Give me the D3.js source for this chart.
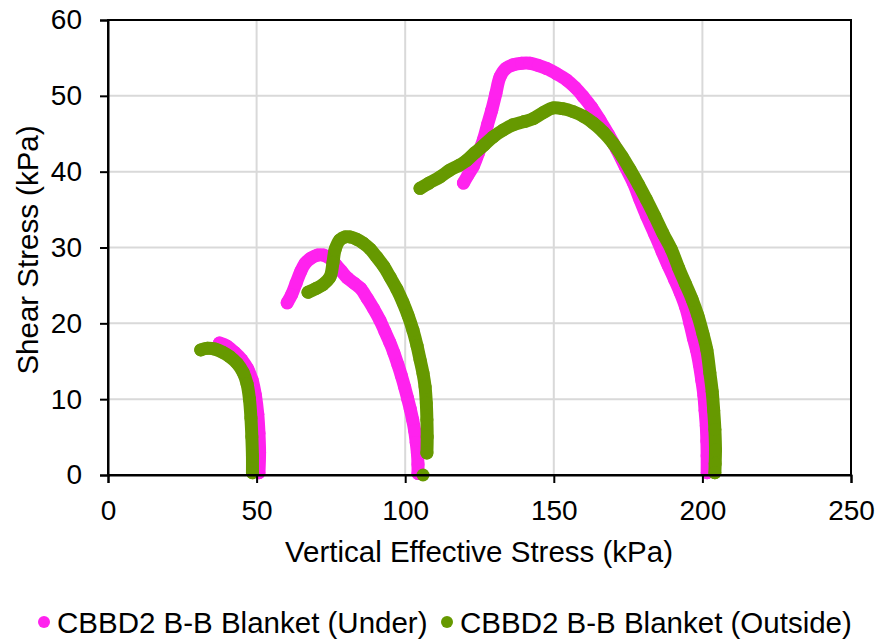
<!DOCTYPE html>
<html>
<head>
<meta charset="utf-8">
<script src="https://cdn.jsdelivr.net/npm/d3@7/dist/d3.min.js"></script>
<style>
  body { margin: 0; background: #fff; }
  text { font-family: "Liberation Sans", Arial, sans-serif; fill: #000; }
</style>
</head>
<body>
<svg id="chart" width="883" height="642"></svg>
<script>
// Axis ticks
const xTicks = [0, 50, 100, 150, 200, 250];
const yTicks = [0, 10, 20, 30, 40, 50, 60];

// Series labels and colours
const seriesNames = ["CBBD2 B-B Blanket (Under)", "CBBD2 B-B Blanket (Outside)"];
const seriesColors = ["#ff22ee", "#669900"];

// Stress paths, [vertical effective stress (kPa), shear stress (kPa)]
// Under the blanket
const underStage1 = [
  [37.5, 17.4], [40, 17.0], [42.5, 16.2], [45, 15.2], [47, 14.0], [48.5, 12.5],
  [49.6, 10.5], [50.4, 8.0], [50.8, 5.5], [51, 3.0], [50.8, 0.3]
];
const underStage2 = [
  [60.3, 22.7], [61.8, 23.8], [63.3, 25.3], [64.8, 26.8], [66.3, 27.9], [68.3, 28.6],
  [70.5, 29.0], [72.5, 29.0], [74.5, 28.6], [76.5, 27.8], [78.5, 26.9], [80.5, 26.0],
  [82.8, 25.3], [85, 24.6], [87.2, 23.3], [89.4, 21.9], [91.5, 20.4], [93.2, 18.9],
  [94.8, 17.5], [96.2, 16.1], [97.5, 14.6], [98.7, 13.1], [99.8, 11.6], [100.8, 10.1],
  [101.7, 8.7], [102.5, 7.3], [103.2, 5.8], [103.7, 4.3], [104.1, 2.9], [104.3, 1.4],
  [104.3, 0.2]
];
const underStage3 = [
  [119.6, 38.5], [121.2, 39.6], [122.9, 40.7], [124.6, 42.4], [126.3, 44.2], [127.7, 46.2],
  [129.1, 48.1], [130.5, 50.3], [131.9, 52.5], [133.8, 53.6], [136.4, 54.1], [139.2, 54.3],
  [142, 54.3], [144.8, 54.0], [147.6, 53.6], [151, 52.9], [154.3, 52.1], [157.2, 51.1],
  [159.9, 49.9], [162.7, 48.5], [165.5, 46.8], [168.4, 44.9], [171.2, 42.9], [174, 40.7],
  [176.8, 38.5], [179, 36.3], [181.3, 34.1], [183.9, 31.8], [186.4, 29.5], [188.5, 27.6],
  [190.6, 25.8], [192.5, 24.1], [194.3, 22.2], [195.8, 20.0], [197, 18.0], [198, 16.5],
  [199, 14.5], [199.8, 12.5], [200.5, 10.5], [200.9, 8.5], [201.3, 6.5], [201.5, 4.5],
  [201.6, 2.5], [201.6, 0.3]
];

// Outside the blanket
const outsideStage1 = [
  [31.2, 16.5], [33.5, 16.7], [36, 16.6], [38.5, 16.2], [41, 15.6], [43.5, 14.7],
  [45.5, 13.5], [46.8, 12.0], [47.6, 10.0], [48.1, 7.5], [48.4, 5.0], [48.6, 2.5], [48.6, 0.3]
];
const outsideStage2 = [
  [67.3, 24.1], [70, 24.6], [72.3, 25.1], [74.7, 26.1], [75.7, 28.0], [76.4, 29.7],
  [78, 31.0], [79.8, 31.4], [81.4, 31.4], [83.6, 31.1], [85.8, 30.6], [88.2, 29.8],
  [90.5, 28.7], [92.8, 27.5], [94.9, 26.1], [97.2, 24.5], [99.3, 22.7], [101, 21.0],
  [102.6, 19.1], [104, 17.0], [105, 15.2], [106, 13.4], [106.7, 11.6], [107.1, 9.5],
  [107.3, 7.3], [107.4, 5.0], [107.3, 2.9]
];
const outsideStage2End = [[106, 0]];
const outsideStage3 = [
  [105, 37.8], [108, 38.5], [111.7, 39.3], [115, 40.2], [118, 40.8], [120.7, 41.5],
  [123.5, 42.5], [126.5, 43.5], [129.6, 44.6], [133, 45.5], [136.4, 46.2], [140, 46.6],
  [143.1, 47.0], [146.5, 47.8], [149.8, 48.4], [153, 48.3], [156.6, 47.9], [160, 47.3],
  [163.3, 46.4], [166.7, 45.2], [170, 43.7], [173, 42.0], [175.6, 40.3], [178.5, 38.3],
  [181.2, 36.3], [184, 34.1], [186.8, 31.8], [189.6, 29.7], [192, 27.3], [194.3, 25.2],
  [196.6, 23.1], [198.5, 21.0], [200.2, 18.6], [201.5, 16.5], [202.5, 13.5], [203.3, 11.0],
  [203.8, 8.5], [204.2, 6.0], [204.4, 3.3], [204.3, 1.5], [204.2, 0.3]
];

const series = [
  { name: seriesNames[0], color: seriesColors[0], paths: [underStage1, underStage2, underStage3] },
  { name: seriesNames[1], color: seriesColors[1], paths: [outsideStage1, outsideStage2, outsideStage2End, outsideStage3] }
];

const svg = d3.select("#chart");
const plot = { left: 108, right: 851, top: 20, bottom: 475 };

const x = d3.scaleLinear().domain([0, 250]).range([plot.left, plot.right]);
const y = d3.scaleLinear().domain([0, 60]).range([plot.bottom, plot.top]);

// Gridlines
const grid = svg.append("g").attr("stroke", "#d9d9d9").attr("stroke-width", 2);
grid.selectAll("line.gx").data(xTicks.slice(1, -1)).join("line")
  .attr("x1", d => x(d)).attr("x2", d => x(d))
  .attr("y1", plot.top).attr("y2", plot.bottom);
grid.selectAll("line.gy").data(yTicks.slice(1, -1)).join("line")
  .attr("y1", d => y(d)).attr("y2", d => y(d))
  .attr("x1", plot.left).attr("x2", plot.right);

// Data: thick marker trails
const line = d3.line().x(d => x(d[0])).y(d => y(d[1])).curve(d3.curveCatmullRom);
series.forEach(s => {
  const g = svg.append("g");
  g.selectAll("path").data(s.paths.filter(p => p.length > 1)).join("path")
    .attr("d", line)
    .attr("fill", "none")
    .attr("stroke", s.color)
    .attr("stroke-width", 13)
    .attr("stroke-linecap", "round")
    .attr("stroke-linejoin", "round");
  g.selectAll("circle").data(s.paths.flat()).join("circle")
    .attr("cx", d => x(d[0])).attr("cy", d => y(d[1]))
    .attr("r", 6.5)
    .attr("fill", s.color);
});

// Plot frame
svg.append("rect")
  .attr("x", plot.left).attr("y", plot.top)
  .attr("width", plot.right - plot.left).attr("height", plot.bottom - plot.top)
  .attr("fill", "none").attr("stroke", "#000").attr("stroke-width", 2);

// Axes
const xAxis = svg.append("g")
  .attr("transform", `translate(0,${plot.bottom})`)
  .call(d3.axisBottom(x).tickValues(xTicks).tickSize(8).tickPadding(17));
const yAxis = svg.append("g")
  .attr("transform", `translate(${plot.left},0)`)
  .call(d3.axisLeft(y).tickValues(yTicks).tickSize(8).tickPadding(18));
[xAxis, yAxis].forEach(a => {
  a.select(".domain").attr("stroke", "#000").attr("stroke-width", 2);
  a.selectAll(".tick line").attr("stroke", "#000").attr("stroke-width", 2);
  a.selectAll(".tick text")
    .style("font-family", "'Liberation Sans', Arial, sans-serif")
    .style("font-size", "28px").attr("fill", "#000");
});

// Axis titles
svg.append("text")
  .attr("x", 479).attr("y", 562)
  .attr("text-anchor", "middle").style("font-size", "29.5px")
  .text("Vertical Effective Stress (kPa)");
svg.append("text")
  .attr("transform", "translate(38,250) rotate(-90)")
  .attr("text-anchor", "middle").style("font-size", "29.5px")
  .text("Shear Stress (kPa)");

// Legend
const legend = svg.append("g").attr("transform", "translate(0,622)");
const legendX = [44, 447];
series.forEach((s, i) => {
  legend.append("circle").attr("cx", legendX[i]).attr("cy", 0).attr("r", 6).attr("fill", s.color);
  legend.append("text").attr("x", legendX[i] + 13).attr("y", 10.5)
    .style("font-size", "29.5px").text(s.name);
});
</script>
</body>
</html>
